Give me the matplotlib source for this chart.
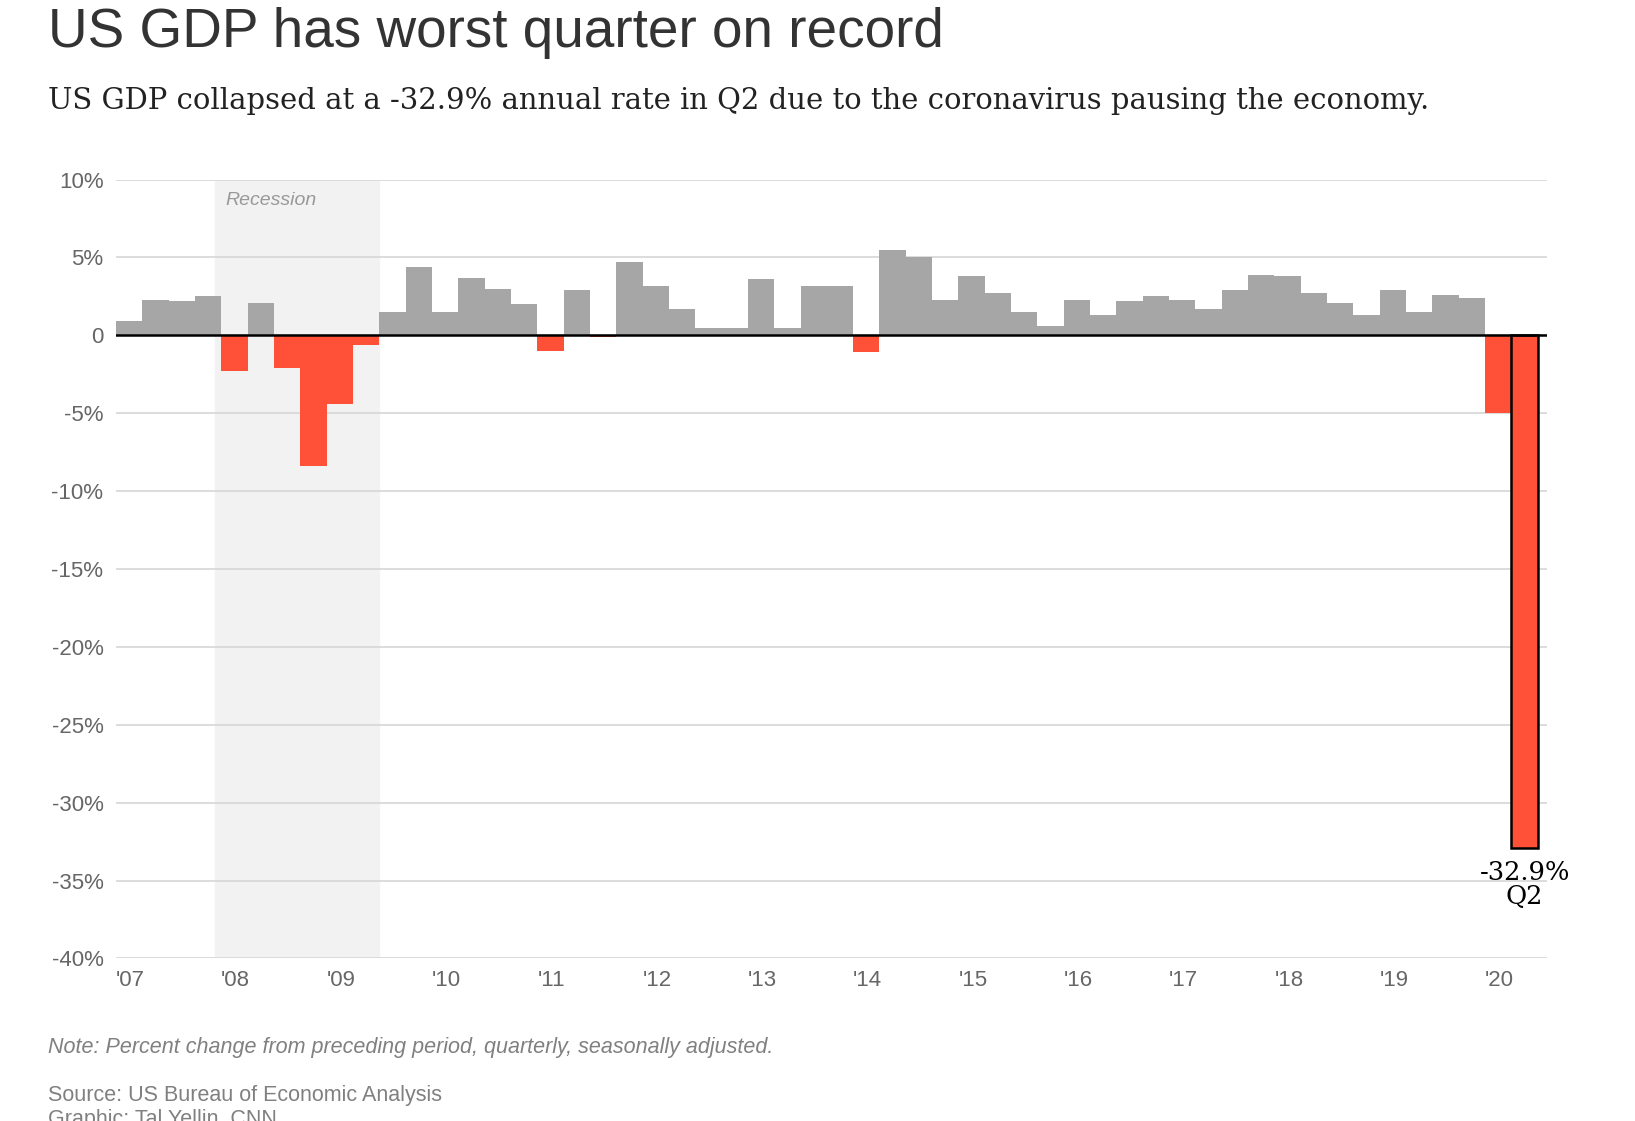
import matplotlib.pyplot as plt
import numpy as np

# quarterly GDP change, annual rate, 2007 Q1 - 2020 Q2
gdp = [0.9, 2.3, 2.2, 2.5,
       -2.3, 2.1, -2.1, -8.4,
       -4.4, -0.6, 1.5, 4.4,
       1.5, 3.7, 3.0, 2.0,
       -1.0, 2.9, -0.1, 4.7,
       3.2, 1.7, 0.5, 0.5,
       3.6, 0.5, 3.2, 3.2,
       -1.1, 5.5, 5.0, 2.3,
       3.8, 2.7, 1.5, 0.6,
       2.3, 1.3, 2.2, 2.5,
       2.3, 1.7, 2.9, 3.9,
       3.8, 2.7, 2.1, 1.3,
       2.9, 1.5, 2.6, 2.4,
       -5.0, -32.9]
year_labels = ["'07", "'08", "'09", "'10", "'11", "'12", "'13", "'14",
               "'15", "'16", "'17", "'18", "'19", "'20"]
y_ticks = [10, 5, 0, -5, -10, -15, -20, -25, -30, -35, -40]
recession = (3.75, 10)

W, H = 1635, 1121
S = 1635 / 1566  # reference drawn at 1566 wide
fig = plt.figure(figsize=(W/100, H/100), dpi=100)
ax = fig.add_axes([111*S/W, 1-918*S/H, (1482-111)*S/W, (918-172)*S/H])

x = np.arange(len(gdp))
colors = ['#a6a6a6' if v >= 0 else '#ff5038' for v in gdp]
ax.bar(x, gdp, width=1.0, align='edge', color=colors, zorder=2)
# outline the last quarter
ax.bar(x[-1], gdp[-1], width=1.0, align='edge', color='#ff5038',
       edgecolor='black', linewidth=1.8, zorder=3)

ax.axvspan(*recession, color='#f2f2f2', zorder=0)
ax.text(recession[0] + 0.4, 9.2, 'Recession', fontstyle='italic',
        fontsize=14, color='#999999', ha='left', va='top', family='Liberation Sans')
ax.axhline(0, color='black', lw=1.8, zorder=4)

ax.set_xlim(0, (1482-111)/25.22)
ax.set_ylim(-40, 10)
ax.set_yticks(y_ticks)
ax.set_yticklabels([f'{t}%' if t != 0 else '0' for t in y_ticks])
ax.set_xticks(np.arange(len(year_labels))*4 + 0.55)
ax.set_xticklabels(year_labels)
ax.grid(axis='y', color='#d9d9d9', lw=1.3, zorder=1)
for s in ax.spines.values():
    s.set_visible(False)
ax.tick_params(length=0, labelsize=16, labelcolor='#666666', pad=8)
ax.tick_params(axis='y', pad=9)
for lab in ax.get_xticklabels() + ax.get_yticklabels():
    lab.set_family('Liberation Sans')

ax.text(x[-1] + 0.5, gdp[-1] - 0.8, '-32.9%\nQ2', ha='center', va='top',
        fontsize=18.5, family='DejaVu Serif', linespacing=0.95)

fig.text(46*S/W, 1-45*S/H, 'US GDP has worst quarter on record', fontsize=39.5,
         color='#333333', family='Liberation Sans', va='baseline')
fig.text(46*S/W, 1-104*S/H, 'US GDP collapsed at a -32.9% annual rate in Q2 due to the coronavirus pausing the economy.',
         fontsize=20.9, color='#222222', family='DejaVu Serif', va='baseline')
fig.text(46*S/W, 1-1009*S/H, 'Note: Percent change from preceding period, quarterly, seasonally adjusted.',
         fontsize=15.5, fontstyle='italic', color='#808080', family='Liberation Sans', va='baseline')
fig.text(46*S/W, 1-1055*S/H, 'Source: US Bureau of Economic Analysis', fontsize=15.5,
         color='#808080', family='Liberation Sans', va='baseline')
fig.text(46*S/W, 1-1078*S/H, 'Graphic: Tal Yellin, CNN', fontsize=15.5,
         color='#808080', family='Liberation Sans', va='baseline')

fig.savefig('out.png', dpi=100, facecolor='white')
